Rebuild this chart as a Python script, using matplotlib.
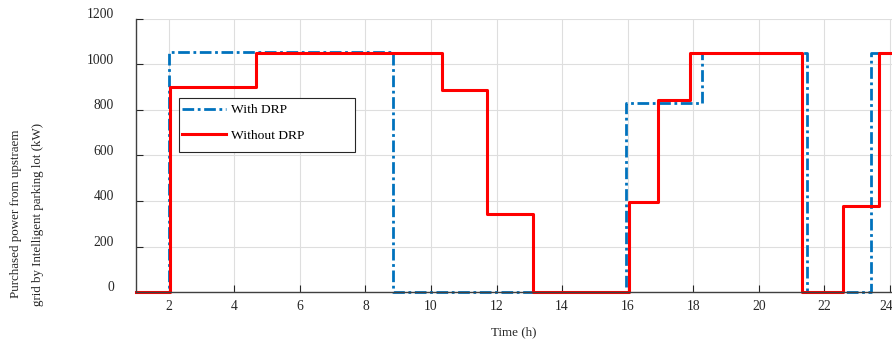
import matplotlib
matplotlib.use("Agg")
import matplotlib.pyplot as plt
from matplotlib.patches import Rectangle
from matplotlib.transforms import ScaledTranslation

plt.rcParams['font.family'] = ['Liberation Serif', 'DejaVu Serif']

# step data (time at which each level starts, level in kW)
t_drp = [1, 2.0, 8.85, 15.95, 18.25, 21.48, 23.43, 24.06]
p_drp = [0, 1055, 0, 830, 1050, 0, 1050, 1050]

t_nodrp = [1, 2.03, 4.66, 10.33, 11.7, 13.1, 16.04, 16.92, 17.9, 21.3, 22.56, 23.65, 24.06]
p_nodrp = [0, 900, 1050, 890, 345, 0, 395, 845, 1050, 0, 380, 1050, 1050]

xticks = [2, 4, 6, 8, 10, 12, 14, 16, 18, 20, 22, 24]
yticks = [0, 200, 400, 600, 800, 1000, 1200]

fig = plt.figure(figsize=(8.92, 3.42), dpi=100)
ax = fig.add_axes([136/892, 1 - 292/342, 1 - 136/892, (292 - 19)/342])

ax.plot(t_drp, p_drp, drawstyle='steps-post', color='#0072BD', lw=2.0,
        linestyle=(0, (4.2, 1.3, 1.0, 1.3)), label='With DRP', clip_on=False)
ax.plot(t_nodrp, p_nodrp, drawstyle='steps-post', color='#FF0000', lw=2.2,
        label='Without DRP', clip_on=False)

ax.set_xlim(1, 24.06)
ax.set_ylim(0, 1200)
ax.set_xticks(xticks)
ax.set_yticks(yticks)
ax.grid(True, color='#dedede', lw=0.8)
ax.set_axisbelow(True)

for s in ['top', 'right']:
    ax.spines[s].set_visible(False)
for s in ['left', 'bottom']:
    ax.spines[s].set_color('#404040')
    ax.spines[s].set_linewidth(1.0)

ax.tick_params(direction='in', length=5, color='#262626', labelsize=9.8,
               labelcolor='#262626')
ax.tick_params(axis='y', pad=16)
ax.tick_params(axis='x', pad=6)
for lab in ax.get_yticklabels():
    lab.set_transform(lab.get_transform() + ScaledTranslation(0, 4/72, fig.dpi_scale_trans))
last = ax.get_xticklabels()[-1]
last.set_transform(last.get_transform() + ScaledTranslation(-4/100, 0, fig.dpi_scale_trans))

ax.set_xlabel('Time (h)', fontsize=9.4, color='#262626', labelpad=9)
fig.text(27/892, 1 - 214/342,
         'Purchased power from upstraem\ngrid by Intelligent parking lot (kW)',
         rotation=90, ha='center', va='center', multialignment='center',
         fontsize=9.4, color='#262626', linespacing=2.1)

# legend box drawn separately so it can be wider than its entries
ax.add_patch(Rectangle((179/892, 1 - 152/342), (355 - 179)/892, (152 - 98)/342,
                       transform=fig.transFigure, facecolor='white',
                       edgecolor='#262626', lw=0.8, zorder=4, clip_on=False))
leg = ax.legend(loc='upper left', bbox_to_anchor=(182/892, 1 - 104/342),
                bbox_transform=fig.transFigure, borderaxespad=0, borderpad=0,
                frameon=False, fontsize=9.7, handlelength=3.3,
                labelspacing=0.97, handletextpad=0.35)
leg.set_zorder(5)

fig.savefig('out.png', dpi=100)
